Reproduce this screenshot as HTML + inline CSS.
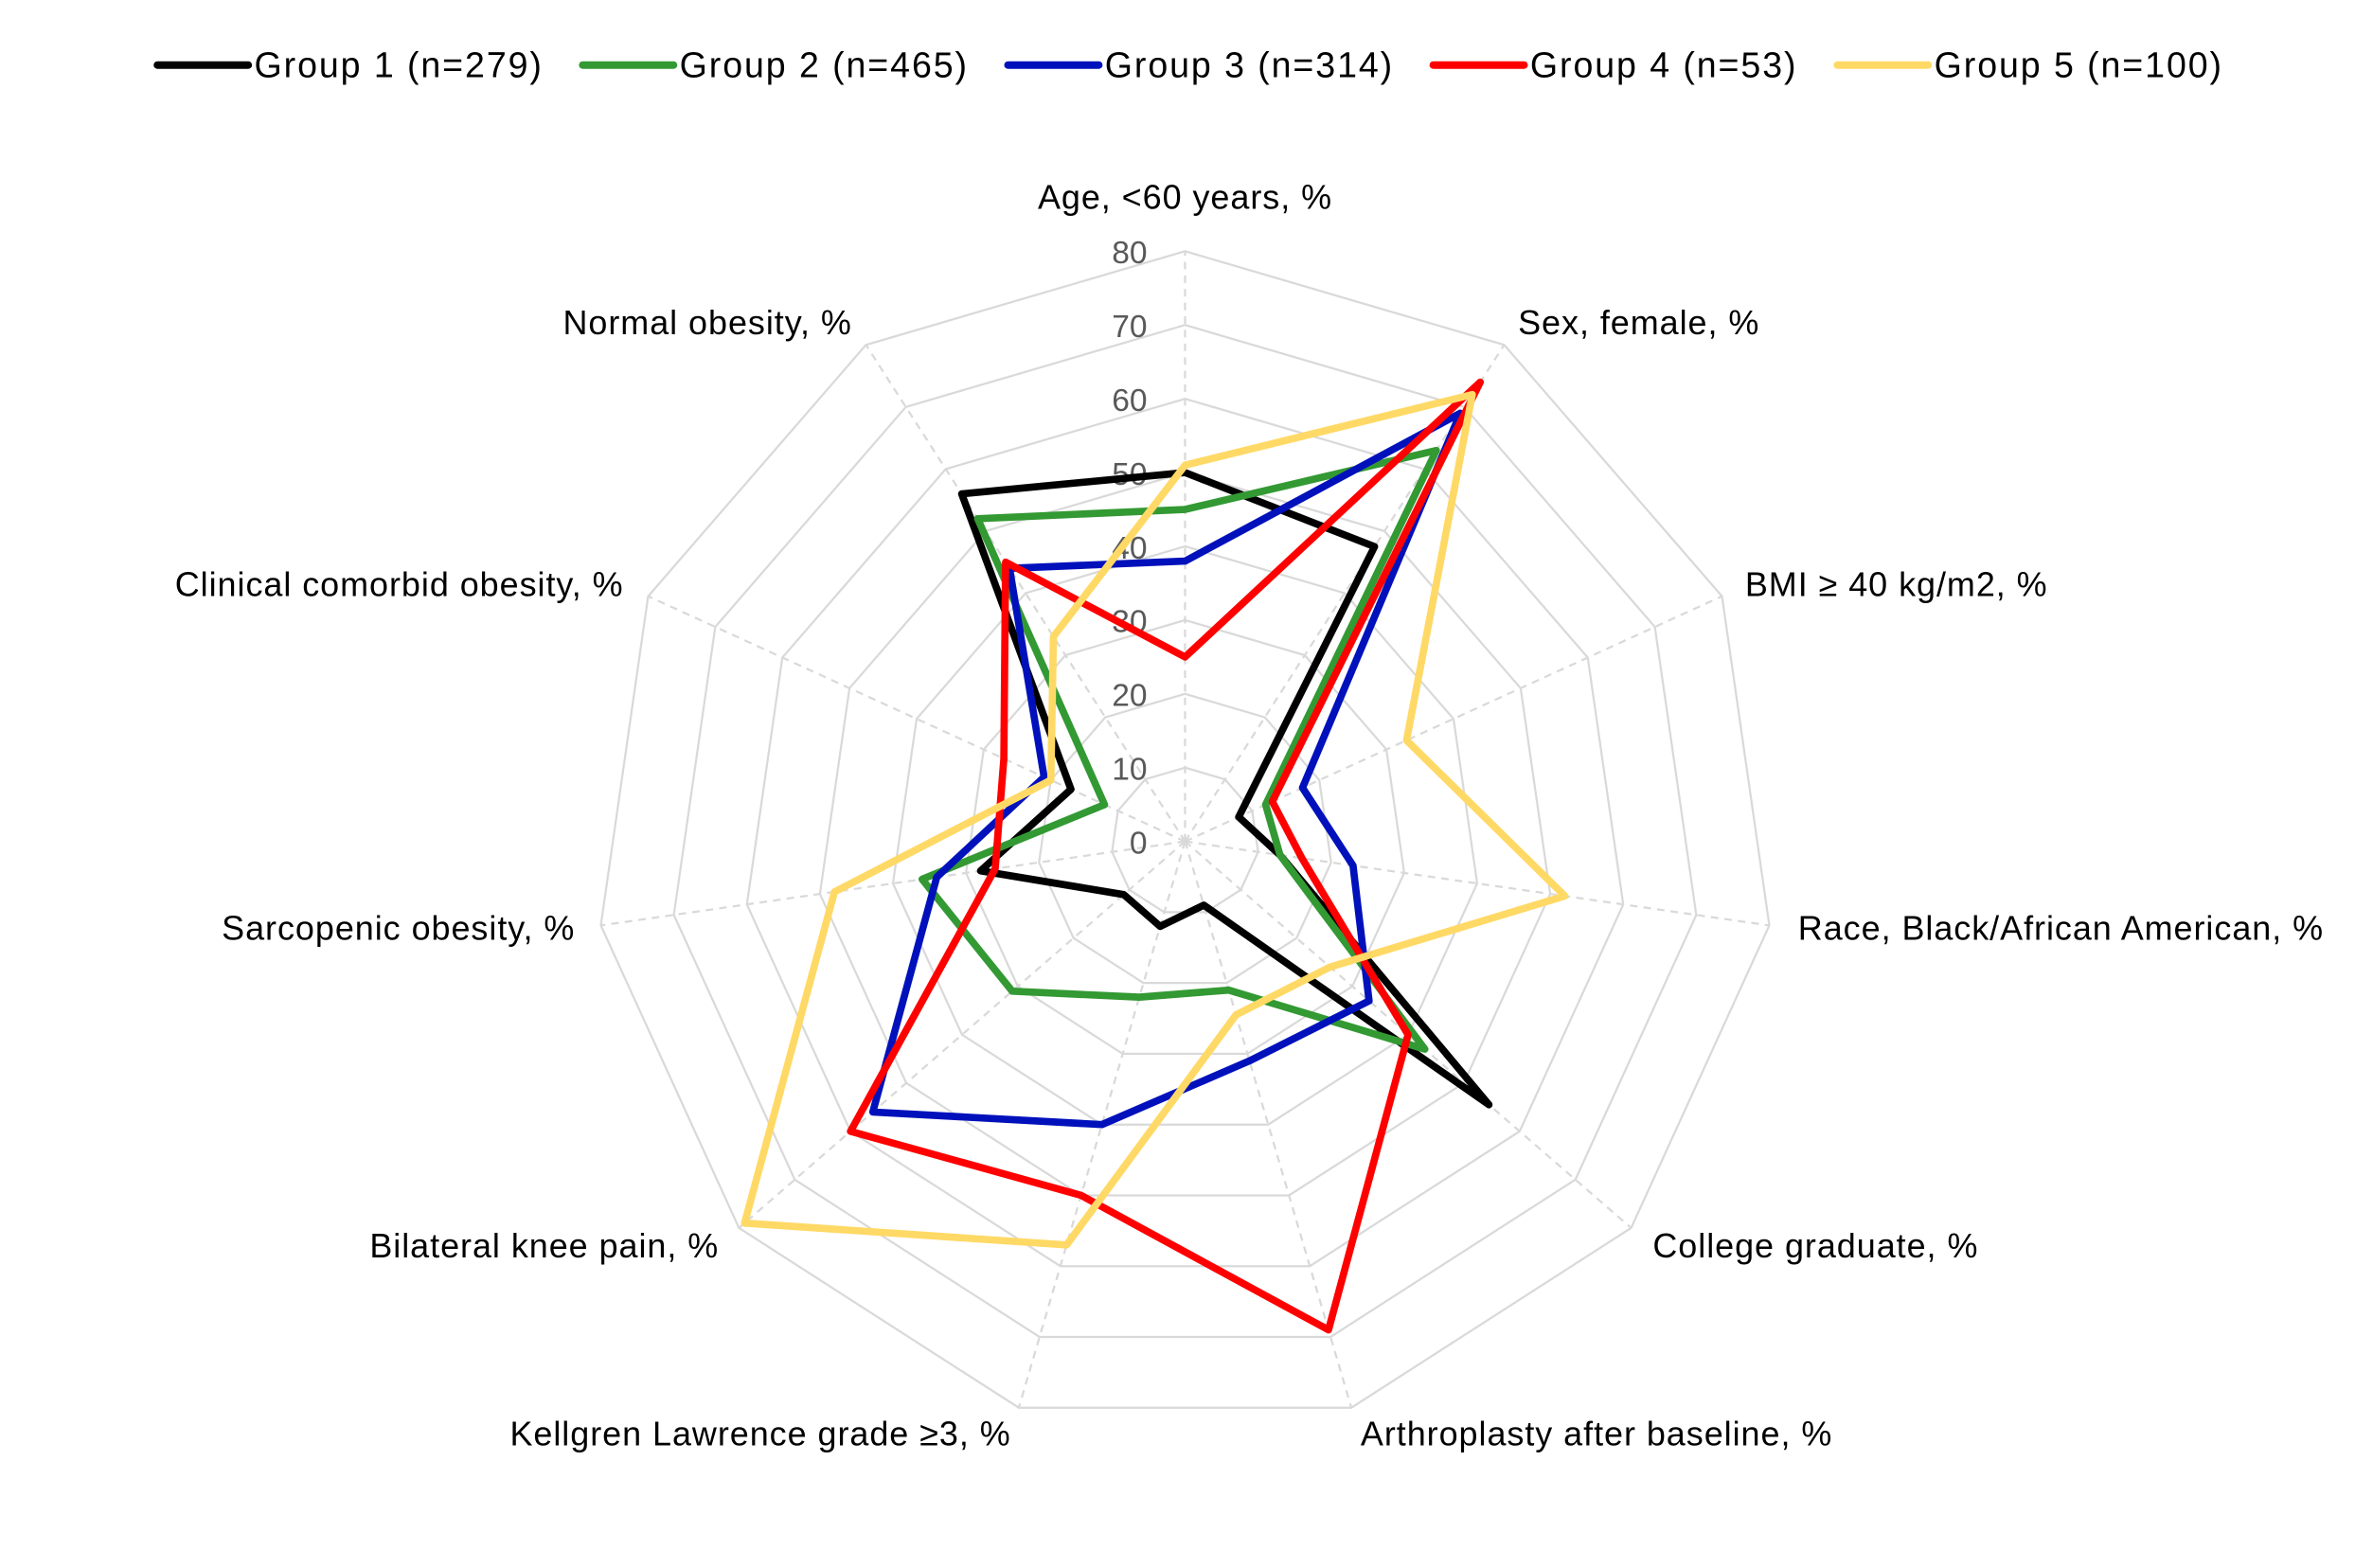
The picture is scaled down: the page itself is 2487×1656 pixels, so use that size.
<!DOCTYPE html>
<html><head><meta charset="utf-8">
<style>
html,body{margin:0;padding:0;background:#fff;}
svg{display:block;}
text{font-family:"Liberation Sans",Arial,sans-serif;}
</style></head>
<body>
<svg id="chart" width="2487" height="1656" viewBox="0 0 1556 1036.1" xmlns="http://www.w3.org/2000/svg">
<g id="grid"></g>
<g id="series"></g>
<g id="labels"></g>
<g id="legend"></g>
</svg>
<script>
const categories = ["Age, <60 years, %","Sex, female, %","BMI \u2265 40 kg/m2, %","Race, Black/African American, %","College graduate, %","Arthroplasty after baseline, %","Kellgren Lawrence grade \u22653, %","Bilateral knee pain, %","Sarcopenic obesity, %","Clinical comorbid obesity, %","Normal obesity, %"];
const seriesNames = ["Group 1 (n=279)","Group 2 (n=465)","Group 3 (n=314)","Group 4 (n=53)","Group 5 (n=100)"];
const group1 = [50,47.5,8,13,54.5,9,12,11,28,17,56];
const group2 = [45,63,12,13,43,21,22,31,36,12,52];
const group3 = [38,69,17.5,23,33,31,40,56,34,21,44];
const group4 = [25,74,13,16,40,69,50,60,26,27,45];
const group5 = [51,72,33,52,26,24.5,57,79,48,20,33];
const tickLabels = [0,10,20,30,40,50,60,70,80];
const colors = ["#000000","#339933","#0011bb","#ff0000","#ffd966"];
const allSeries = [group1,group2,group3,group4,group5];

const NS="http://www.w3.org/2000/svg";
const cx=783, cy=556, R=390, maxV=80;
const n=categories.length;
function ang(i){return i*2*Math.PI/n;}
function pt(i,v){const r=v/maxV*R;return [cx+r*Math.sin(ang(i)), cy-r*Math.cos(ang(i))];}
function mk(tag,attrs,parent){const e=document.createElementNS(NS,tag);for(const k in attrs)e.setAttribute(k,attrs[k]);parent.appendChild(e);return e;}

const grid=document.getElementById('grid');
tickLabels.forEach(t=>{
  if(t===0)return;
  const pts=categories.map((c,i)=>pt(i,t).join(',')).join(' ');
  const p=mk('polygon',{points:pts,fill:'none',stroke:'#d9d9d9','stroke-width':1.4},grid);
  
  
});
categories.forEach((c,i)=>{
  const [x,y]=pt(i,maxV);
  const l=mk('line',{x1:cx,y1:cy,x2:x,y2:y,stroke:'#d9d9d9','stroke-width':1.4,'stroke-dasharray':'5,4'},grid);
  
  
});
tickLabels.forEach(t=>{
  const [x,y]=pt(0,t);
  const tx=mk('text',{x:x-25,y:y+8,'text-anchor':'end','font-size':21,fill:'#595959'},grid);
  tx.textContent=t;
  
  
});

const sg=document.getElementById('series');
allSeries.forEach((s,k)=>{
  const pts=s.map((v,i)=>pt(i,v).join(',')).join(' ');
  const p=mk('polygon',{points:pts,fill:'none',stroke:colors[k],'stroke-width':4.8,'stroke-linejoin':'round'},sg);
  
  
});

const labelPos=[[783,138,'middle'],[1003,221,'start'],[1153,394,'start'],[1188,621,'start'],[1092,831,'start'],[899,955,'start'],[668,955,'end'],[475,831,'end'],[380,621,'end'],[412,394,'end'],[563,221,'end']];
const lg=document.getElementById('labels');
categories.forEach((c,i)=>{
  const [x,y,a]=labelPos[i];
  const t=mk('text',{x:x,y:y,'text-anchor':a,'font-size':22.5,'letter-spacing':0.6,fill:'#000'},lg);
  t.textContent=c;
  
  
});

const leg=document.getElementById('legend');
const legX=[104,385,666,947,1214];
seriesNames.forEach((s,k)=>{
  const g=mk('g',{},leg);
  
  
  mk('line',{x1:legX[k],y1:43,x2:legX[k]+60,y2:43,stroke:colors[k],'stroke-width':5,'stroke-linecap':'round'},g);
  const t=mk('text',{x:legX[k]+64,y:51,'font-size':23.5,'letter-spacing':1.2,fill:'#000'},g);
  t.textContent=s;
});
</script>
</body></html>
